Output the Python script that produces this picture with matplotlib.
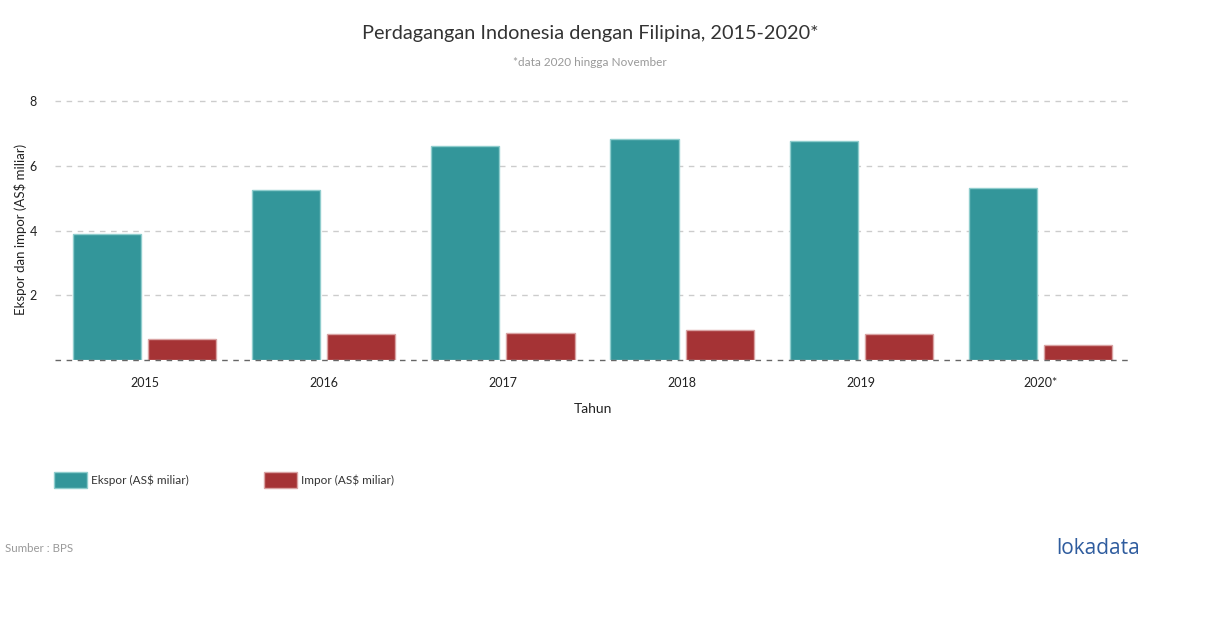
import matplotlib
matplotlib.use("Agg")
import matplotlib.pyplot as plt
from matplotlib.patches import Rectangle
import numpy as np

categories = ["2015", "2016", "2017", "2018", "2019", "2020*"]
ekspor = [3.89, 5.25, 6.61, 6.83, 6.76, 5.31]
impor = [0.65, 0.80, 0.83, 0.93, 0.80, 0.46]
yticks = [2, 4, 6, 8]

plt.rcParams['font.family'] = ['Lato', 'DejaVu Sans']

W, H = 1210, 628
fig = plt.figure(figsize=(W/100, H/100), dpi=100)
ax = fig.add_axes([55/W, 1-360/H, (1130-55)/W, (360-101)/H])

teal = "#33969a"
red = "#a53335"
x = np.arange(len(categories))
bw = 0.38
ax.bar(x - 0.21, ekspor, bw, color=teal, edgecolor="#8fcdcd", linewidth=1, zorder=3)
ax.bar(x + 0.21, impor, bw, color=red, edgecolor="#d9a3a3", linewidth=1, zorder=3)

ax.set_xlim(-0.5, 5.5)
ax.set_ylim(0, 8)
ax.set_yticks(yticks)
ax.set_yticklabels([str(v) for v in yticks], fontsize=9, color="#222222")
for v in yticks:
    ax.axhline(v, color="#cccccc", linestyle=(0, (4, 4)), linewidth=1, zorder=1, clip_on=False)
ax.axhline(0, color="#666666", linestyle=(0, (4, 4)), linewidth=1, zorder=4, clip_on=False)
ax.set_xticks(x)
ax.set_xticklabels(categories, fontsize=9, color="#222222")
ax.tick_params(axis='x', length=0, pad=12)
ax.tick_params(axis='y', length=0, pad=13)
for s in ax.spines.values():
    s.set_visible(False)
ax.set_xlabel("Tahun", fontsize=10, color="#222222", labelpad=10)
ax.set_ylabel("Ekspor dan impor (AS$ miliar)", fontsize=9.5, color="#222222", labelpad=0)
ax.yaxis.set_label_coords((27 - 55) / (1130 - 55), (360 - 229) / (360 - 101))

fig.text(590/W, 1-33/H, "Perdagangan Indonesia dengan Filipina, 2015-2020*", ha="center", va="center",
         fontsize=14.3, color="#333333")
fig.text(590/W, 1-62/H, "*data 2020 hingga November", ha="center", va="center",
         fontsize=8.5, color="#999999")

# legend
fig.patches.append(Rectangle((54/W, 1-488/H), 33/W, 16/H, transform=fig.transFigure,
                             facecolor=teal, edgecolor="#8fcdcd", linewidth=1))
fig.text(91/W, 1-480/H, "Ekspor (AS$ miliar)", ha="left", va="center", fontsize=8.5, color="#333333")
fig.patches.append(Rectangle((264/W, 1-488/H), 33/W, 16/H, transform=fig.transFigure,
                             facecolor=red, edgecolor="#d9a3a3", linewidth=1))
fig.text(301/W, 1-480/H, "Impor (AS$ miliar)", ha="left", va="center", fontsize=8.5, color="#333333")

fig.text(5/W, 1-548/H, "Sumber : BPS", ha="left", va="center", fontsize=8.3, color="#999999")
fig.text(1140/W, 1-549/H, "lokadata", ha="right", va="center", fontsize=15, color="#2f5c9e",
         family=["Open Sans", "DejaVu Sans"])

fig.savefig("out.png", dpi=100, facecolor="white")
